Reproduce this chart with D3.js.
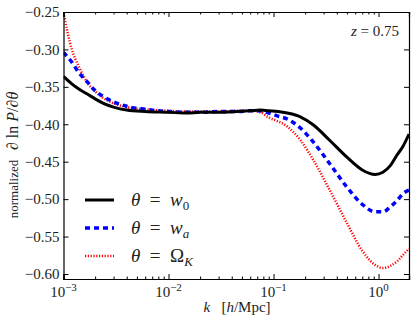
<!DOCTYPE html>
<html>
<head>
<meta charset="utf-8">
<script src="https://cdn.jsdelivr.net/npm/d3@7"></script>
<style>
  body { margin: 0; background: #fff; }
  svg { display: block; }
  .axis path, .axis line { stroke: #000; }
  .axis text { font-family: "Liberation Serif", serif; font-size: 15px; fill: #222; }
</style>
</head>
<body>
<script>
// k values (h/Mpc) shared by the three curves
var kVals = [0.001, 0.0012, 0.0014, 0.0017, 0.002, 0.0024, 0.003, 0.004, 0.006, 0.01,
  0.015, 0.02, 0.03, 0.045, 0.06, 0.075, 0.09, 0.11, 0.135, 0.18,
  0.24, 0.34, 0.5, 0.7, 0.93, 1.1, 1.3, 1.5, 1.7, 1.95];

var w0 = [-0.336, -0.346, -0.353, -0.360, -0.366, -0.372, -0.377, -0.381, -0.383, -0.384,
  -0.385, -0.384, -0.384, -0.383, -0.382, -0.381, -0.382, -0.383, -0.385, -0.390,
  -0.401, -0.421, -0.444, -0.461, -0.467, -0.464, -0.455, -0.441, -0.430, -0.413];

var wa = [-0.304, -0.317, -0.331, -0.344, -0.355, -0.363, -0.370, -0.376, -0.380, -0.383,
  -0.384, -0.384, -0.383, -0.383, -0.382, -0.382, -0.385, -0.389, -0.393, -0.405,
  -0.424, -0.452, -0.484, -0.507, -0.517, -0.517, -0.510, -0.502, -0.493, -0.488];

var omegaK = [-0.251, -0.300, -0.323, -0.345, -0.356, -0.365, -0.372, -0.377, -0.380, -0.382,
  -0.383, -0.383, -0.383, -0.382, -0.382, -0.384, -0.391, -0.396, -0.403, -0.421,
  -0.448, -0.487, -0.532, -0.569, -0.588, -0.592, -0.589, -0.583, -0.575, -0.566];

var yTicks = [-0.60, -0.55, -0.50, -0.45, -0.40, -0.35, -0.30, -0.25];
var xTicks = [1e-3, 1e-2, 1e-1, 1e0];
var xTickLabels = ["\u22123", "\u22122", "\u22121", "0"];
var legendLabels = ["w", "w", "\u03A9"];
var legendSubs = ["0", "a", "K"];

var width = 415, height = 320;
var plotL = 63.5, plotR = 409, plotT = 12, plotB = 279;

var x = d3.scaleLog().domain([1e-3, 1.95]).range([plotL, plotR]);
var y = d3.scaleLinear().domain([-0.6067, -0.25]).range([plotB, plotT]);

var minor = [];
[1e-3, 1e-2, 1e-1, 1].forEach(function(d) {
  for (var i = 2; i <= 9; i++) {
    var v = d * i;
    if (v < 1.95) minor.push(v);
  }
});

var svg = d3.select("body").append("svg")
  .attr("width", width)
  .attr("height", height);

var series = [
  {vals: w0, color: "#000", width: 3, dash: null},
  {vals: wa, color: "#0000ff", width: 3.5, dash: "5,4"},
  {vals: omegaK, color: "#ff0000", width: 2.5, dash: "1.2,1.6"}
];

var line = d3.line()
  .x(function(d) { return x(d[0]); })
  .y(function(d) { return y(d[1]); })
  .curve(d3.curveMonotoneX);

svg.append("defs").append("clipPath").attr("id", "clip")
  .append("rect").attr("x", plotL).attr("y", plotT)
  .attr("width", plotR - plotL).attr("height", plotB - plotT);

var plot = svg.append("g").attr("clip-path", "url(#clip)");
series.slice().reverse().forEach(function(s) {
  plot.append("path")
    .datum(kVals.map(function(k, i) { return [k, s.vals[i]]; }))
    .attr("d", line)
    .attr("fill", "none")
    .attr("stroke", s.color)
    .attr("stroke-width", s.width)
    .attr("stroke-dasharray", s.dash);
});

// axes, ticks inside on all four sides
svg.append("g").attr("class", "axis")
  .attr("transform", "translate(" + plotL + ",0)")
  .call(d3.axisLeft(y).tickValues(yTicks).tickSize(-5).tickPadding(4).tickFormat(d3.format(".2f")));
svg.append("g").attr("class", "axis")
  .attr("transform", "translate(" + plotR + ",0)")
  .call(d3.axisRight(y).tickValues(yTicks).tickSize(-5).tickFormat(""));

svg.append("g").attr("class", "axis")
  .attr("transform", "translate(0," + plotB + ")")
  .call(d3.axisBottom(x).tickValues(xTicks).tickSize(-5).tickFormat(""));
svg.append("g").attr("class", "axis")
  .attr("transform", "translate(0," + plotB + ")")
  .call(d3.axisBottom(x).tickValues(minor).tickSize(-2.5).tickFormat(""));
svg.append("g").attr("class", "axis")
  .attr("transform", "translate(0," + plotT + ")")
  .call(d3.axisTop(x).tickValues(xTicks).tickSize(-5).tickFormat(""));
svg.append("g").attr("class", "axis")
  .attr("transform", "translate(0," + plotT + ")")
  .call(d3.axisTop(x).tickValues(minor).tickSize(-2.5).tickFormat(""));

svg.selectAll(".axis .domain").attr("stroke-width", 1.2);

// x tick labels 10^n
var xl = svg.append("g").selectAll("text")
  .data(xTicks)
  .enter().append("text")
  .attr("x", function(d) { return x(d); })
  .attr("y", plotB + 18)
  .attr("text-anchor", "middle")
  .style("font-family", "Liberation Serif, serif")
  .style("font-size", "15px")
  .style("fill", "#222");
xl.append("tspan").text("10");
xl.append("tspan").attr("dy", -6).style("font-size", "11px")
  .text(function(d, i) { return xTickLabels[i]; });

// x label
var xlab = svg.append("text")
  .attr("x", 237).attr("y", 312)
  .attr("text-anchor", "middle")
  .style("font-family", "Liberation Serif, serif")
  .style("font-size", "15px")
  .style("fill", "#222")
  .style("white-space", "pre");
xlab.append("tspan").style("font-style", "italic").text("k");
xlab.append("tspan").text("   [");
xlab.append("tspan").style("font-style", "italic").text("h");
xlab.append("tspan").text("/Mpc]");

// y label
var ylab = svg.append("text")
  .attr("transform", "translate(18,155) rotate(-90)")
  .attr("text-anchor", "middle")
  .style("font-family", "Liberation Serif, serif")
  .style("fill", "#222")
  .style("white-space", "pre");
ylab.append("tspan").style("font-size", "13px").text("normalized   ");
ylab.append("tspan").style("font-size", "16px").style("font-style", "italic").text("\u2202");
ylab.append("tspan").style("font-size", "16px").text(" ln ");
ylab.append("tspan").style("font-size", "16px").style("font-style", "italic").text("P");
ylab.append("tspan").style("font-size", "16px").text("/");
ylab.append("tspan").style("font-size", "16px").style("font-style", "italic").text("\u2202\u03B8");

// redshift label
var zt = svg.append("text")
  .attr("x", 399).attr("y", 36)
  .attr("text-anchor", "end")
  .style("font-family", "Liberation Serif, serif")
  .style("font-size", "15px")
  .style("fill", "#222");
zt.append("tspan").style("font-style", "italic").text("z");
zt.append("tspan").text(" = 0.75");

// legend
var leg = svg.append("g").selectAll("g")
  .data(series)
  .enter().append("g")
  .attr("transform", function(d, i) { return "translate(0," + (200 + i * 28) + ")"; });
leg.append("line")
  .attr("x1", 85).attr("x2", 114)
  .attr("stroke", function(d) { return d.color; })
  .attr("stroke-width", function(d) { return d.width; })
  .attr("stroke-dasharray", function(d) { return d.dash; });
var lt = leg.append("text")
  .attr("x", 131).attr("y", 6)
  .style("font-family", "Liberation Serif, serif")
  .style("font-size", "19px")
  .style("fill", "#222")
  .style("white-space", "pre");
lt.append("tspan").style("font-style", "italic").text("\u03B8");
lt.append("tspan").text("  =  ");
lt.append("tspan").style("font-style", function(d, i) { return i < 2 ? "italic" : "normal"; })
  .text(function(d, i) { return legendLabels[i]; });
lt.append("tspan").attr("dy", 4).style("font-size", "13px")
  .style("font-style", function(d, i) { return i === 0 ? "normal" : "italic"; })
  .text(function(d, i) { return legendSubs[i]; });
</script>
</body>
</html>
